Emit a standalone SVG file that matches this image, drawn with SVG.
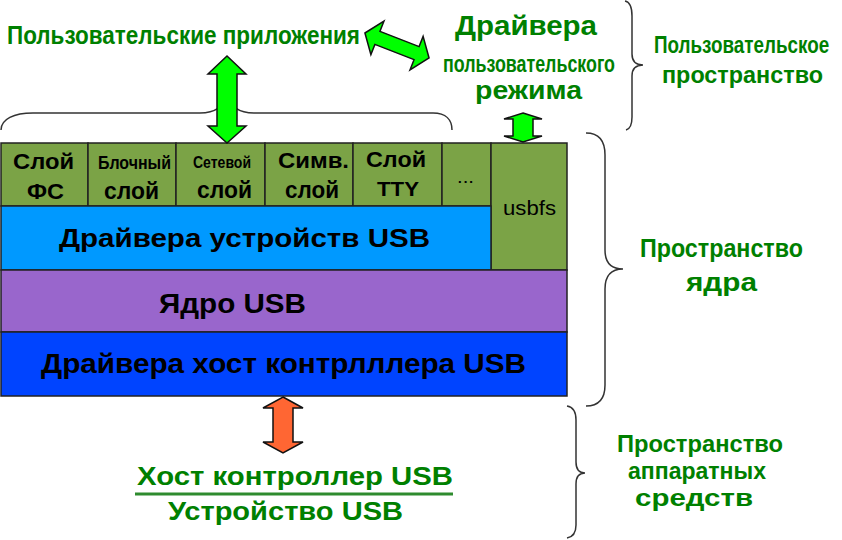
<svg xmlns="http://www.w3.org/2000/svg" width="842" height="540" viewBox="0 0 842 540">
<style>
.g{font-family:"Liberation Sans",Arial,sans-serif;font-weight:bold;fill:#008000}
.k{font-family:"Liberation Sans",Arial,sans-serif;font-weight:bold;fill:#000}
.r{font-family:"Liberation Sans",Arial,sans-serif;fill:#000}
.box{stroke:#222;stroke-width:1.5}
.brace{fill:none;stroke:#333;stroke-width:1.5}
.ga{fill:#00FF00;stroke:#111;stroke-width:1.5;stroke-linejoin:miter}
.oa{fill:#FF6633;stroke:#111;stroke-width:1.5}
</style>
<rect width="842" height="540" fill="#fff"/>

<g id="layers">
  <g id="row-top">
    <rect class="box" x="1" y="143" width="87" height="63" fill="#7BA346"/>
    <rect class="box" x="88" y="143" width="88" height="63" fill="#7BA346"/>
    <rect class="box" x="176" y="143" width="89" height="63" fill="#7BA346"/>
    <rect class="box" x="265" y="143" width="88" height="63" fill="#7BA346"/>
    <rect class="box" x="353" y="143" width="89" height="63" fill="#7BA346"/>
    <rect class="box" x="442" y="143" width="49" height="63" fill="#7BA346"/>
  </g>
  <g id="usbfs">
    <rect class="box" x="491" y="143" width="76" height="127" fill="#7BA346"/>
    <text class="r" x="503" y="215" font-size="21" textLength="53" lengthAdjust="spacingAndGlyphs">usbfs</text>
  </g>
  <g id="fs"><text class="k" x="13" y="169" font-size="22" textLength="61" lengthAdjust="spacingAndGlyphs">Слой</text><text class="k" x="27" y="199" font-size="22" textLength="37" lengthAdjust="spacingAndGlyphs">ФС</text></g>
  <g id="block"><text class="k" x="98" y="169" font-size="19" textLength="73" lengthAdjust="spacingAndGlyphs">Блочный</text><text class="k" x="104" y="199" font-size="24" textLength="55" lengthAdjust="spacingAndGlyphs">слой</text></g>
  <g id="net"><text class="k" x="193" y="168" font-size="17" textLength="58" lengthAdjust="spacingAndGlyphs">Сетевой</text><text class="k" x="197" y="198" font-size="24" textLength="55" lengthAdjust="spacingAndGlyphs">слой</text></g>
  <g id="char"><text class="k" x="278" y="168" font-size="22" textLength="71" lengthAdjust="spacingAndGlyphs">Симв.</text><text class="k" x="285" y="198" font-size="24" textLength="54" lengthAdjust="spacingAndGlyphs">слой</text></g>
  <g id="tty"><text class="k" x="366" y="167" font-size="22" textLength="60" lengthAdjust="spacingAndGlyphs">Слой</text><text class="k" x="377" y="196" font-size="21" textLength="42" lengthAdjust="spacingAndGlyphs">TTY</text></g>
  <g id="more"><text class="r" x="457" y="183" font-size="18" textLength="17" lengthAdjust="spacingAndGlyphs">...</text></g>
  <g id="dev-drivers">
    <rect class="box" x="1" y="206" width="490" height="64" fill="#0099FF"/>
    <text class="k" x="59" y="247" font-size="26" textLength="371" lengthAdjust="spacingAndGlyphs">Драйвера устройств USB</text>
  </g>
  <g id="core">
    <rect class="box" x="1" y="270" width="566" height="62" fill="#9966CC"/>
    <text class="k" x="159" y="313" font-size="27" textLength="147" lengthAdjust="spacingAndGlyphs">Ядро USB</text>
  </g>
  <g id="hcd">
    <rect class="box" x="1" y="332" width="566" height="64" fill="#0044FF"/>
    <text class="k" x="41" y="373" font-size="27" textLength="485" lengthAdjust="spacingAndGlyphs">Драйвера хост контрлллера USB</text>
  </g>
</g>

<g id="user-apps"><text class="g" x="7" y="44" font-size="26" textLength="353" lengthAdjust="spacingAndGlyphs">Пользовательские приложения</text></g>
<g id="user-drivers">
  <text class="g" x="455" y="35" font-size="27" textLength="142" lengthAdjust="spacingAndGlyphs">Драйвера</text>
  <text class="g" x="443" y="72" font-size="23" textLength="172" lengthAdjust="spacingAndGlyphs">пользовательского</text>
  <text class="g" x="475" y="99" font-size="25" textLength="107" lengthAdjust="spacingAndGlyphs">режима</text>
</g>
<g id="user-space"><text class="g" transform="translate(654,53) scale(0.8,1)" x="0" y="0" font-size="23" textLength="219" lengthAdjust="spacingAndGlyphs">Пользовательское</text><text class="g" x="662" y="83" font-size="24" textLength="161" lengthAdjust="spacingAndGlyphs">пространство</text></g>
<g id="kernel-space"><text class="g" x="640" y="257" font-size="26" textLength="163" lengthAdjust="spacingAndGlyphs">Пространство</text><text class="g" x="686" y="291" font-size="26" textLength="71" lengthAdjust="spacingAndGlyphs">ядра</text></g>
<g id="hw-space"><text class="g" x="617" y="452" font-size="24" textLength="166" lengthAdjust="spacingAndGlyphs">Пространство</text><text class="g" x="628" y="479" font-size="24" textLength="138" lengthAdjust="spacingAndGlyphs">аппаратных</text><text class="g" x="635" y="506" font-size="24" textLength="118" lengthAdjust="spacingAndGlyphs">средств</text></g>
<g id="hw">
  <text class="g" x="137" y="485" font-size="26" textLength="316" lengthAdjust="spacingAndGlyphs">Хост контроллер USB</text>
  <line x1="135" y1="494" x2="453" y2="494" stroke="#2E8B2E" stroke-width="3"/>
  <text class="g" x="168" y="520" font-size="26" textLength="235" lengthAdjust="spacingAndGlyphs">Устройство USB</text>
</g>

<g id="connectors">
  <path class="brace" d="M1,130 C1,119 14,113 33,113 L200,113 C215,113 225,106 227,95 C229,106 239,113 254,113 L433,113 C446,113 452,120 452,130"/>
  <path class="brace" d="M625,1 C630,2 632,7 632,16 L632,54 C632,61 636,65 643,65 C636,65 632,69 632,76 L632,117 C632,125 630,129 626,130"/>
  <path class="brace" d="M586,133 C599,133 605,141 605,155 L605,250 C605,262 611,269 623,269 C611,269 605,276 605,289 L605,385 C605,399 599,406 586,406"/>
  <path class="brace" d="M567,406 C573,407 576,412 576,420 L576,462 C576,469 579,473 585,473 C579,473 576,477 576,484 L576,525 C576,533 573,537 567,538"/>
  <polygon class="ga" points="227,56 246,74 237,74 237,126 246,126 227,143 208,126 217,126 217,74 208,74"/>
  <polygon class="ga" points="523,113 542,119 533,119 533,136 542,136 523,142 504,136 513,136 513,119 504,119"/>
  <polygon class="ga" transform="translate(397,45.5) rotate(21.3)" points="-34.4,0 -21,-18 -21,-7 21,-7 21,-18 34.4,0 21,18 21,7 -21,7 -21,18"/>
  <polygon class="oa" points="283,397 303,408 293,408 293,442 303,442 283,453 263,442 273,442 273,408 263,408"/>
</g>
</svg>
